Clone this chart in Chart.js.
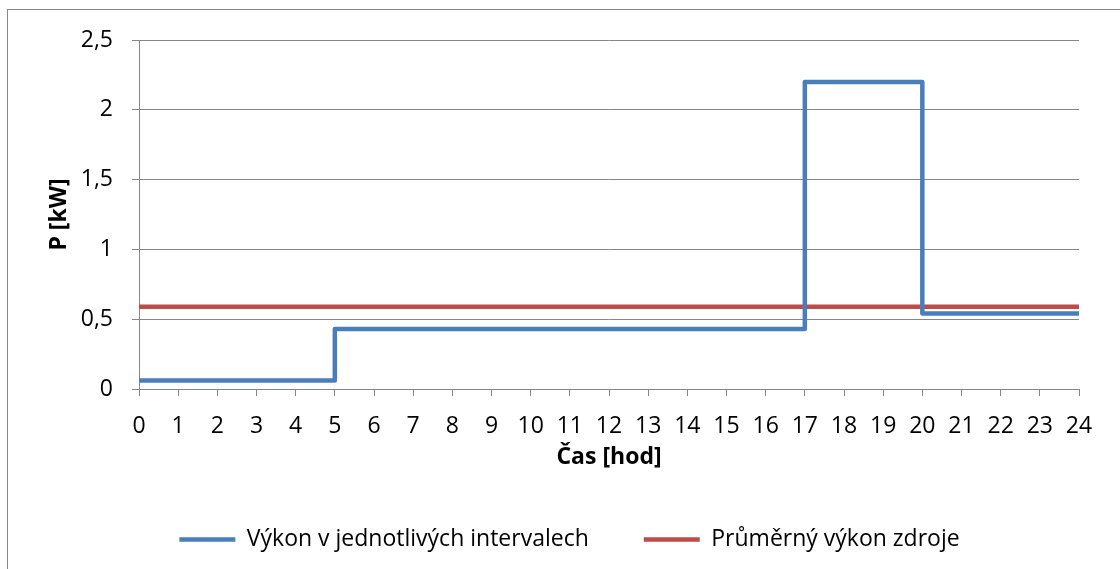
<!DOCTYPE html>
<html>
<head>
<meta charset="utf-8">
<script src="https://cdn.jsdelivr.net/npm/chart.js@4/dist/chart.umd.min.js"></script>
<style>
  html, body { margin: 0; padding: 0; background: #fff; }
  #wrap { width: 1120px; height: 569px; position: relative; }
</style>
</head>
<body>
<div id="wrap"><canvas id="chart" width="1120" height="569"></canvas></div>
<script>
const stepHours = [0, 5, 17, 20, 24];
const stepPower = [0.06, 0.43, 2.2, 0.54, 0.54];
const avgHours = [0, 24];
const avgPower = [0.59, 0.59];
const seriesNames = ["Výkon v jednotlivých intervalech", "Průměrný výkon zdroje"];

const COLOR_BLUE = "#4a7ebb";
const COLOR_RED = "#be4b48";
const COLOR_GRID = "#868686";
const FONT_FAMILY = "'Open Sans', sans-serif";

Chart.defaults.color = "#000";
Chart.defaults.font = { size: 23, family: FONT_FAMILY };

const toPoints = (xs, ys) => xs.map((x, i) => ({ x, y: ys[i] }));

// frame round the whole chart, only top and left edges fall inside the picture
const outerBorder = {
  id: "outerBorder",
  afterLayout(chart) {
    // legend sits a bit right of the full-width centre
    chart.legend.left += 12;
    chart.legend.right += 12;
  },
  afterDraw(chart) {
    const { ctx } = chart;
    ctx.save();
    ctx.strokeStyle = COLOR_GRID;
    ctx.lineWidth = 1;
    ctx.strokeRect(7.5, 9.5, 1200, 600);
    ctx.restore();
  },
};

new Chart(document.getElementById("chart"), {
  type: "line",
  data: {
    datasets: [
      {
        label: seriesNames[0],
        data: toPoints(stepHours, stepPower),
        stepped: "before",
        borderColor: COLOR_BLUE,
        backgroundColor: COLOR_BLUE,
        borderWidth: 4.5,
        borderJoinStyle: "round",
        borderCapStyle: "round",
        pointRadius: 0,
      },
      {
        label: seriesNames[1],
        data: toPoints(avgHours, avgPower),
        borderColor: COLOR_RED,
        backgroundColor: COLOR_RED,
        borderWidth: 4.5,
        borderCapStyle: "round",
        pointRadius: 0,
      },
    ],
  },
  options: {
    responsive: false,
    animation: false,
    layout: { padding: { top: 40, right: 41, left: 36, bottom: 8 } },
    scales: {
      x: {
        type: "linear",
        min: 0,
        max: 24,
        border: { color: COLOR_GRID },
        grid: { drawOnChartArea: false, color: COLOR_GRID, tickLength: 7 },
        ticks: { stepSize: 1, padding: 17, maxRotation: 0, autoSkip: false },
        title: {
          display: true,
          text: "Čas [hod]",
          font: { weight: "bold", size: 23 },
          padding: { top: 0, bottom: 2 },
        },
        afterFit(scale) {
          scale.height = 84;
        },
      },
      y: {
        min: 0,
        max: 2.5,
        border: { color: COLOR_GRID },
        grid: { color: COLOR_GRID, tickLength: 7 },
        ticks: {
          stepSize: 0.5,
          padding: 19,
          callback: (v) => String(v).replace(".", ","),
        },
        title: {
          display: true,
          text: "P [kW]",
          font: { weight: "bold", size: 23 },
          padding: { top: 10, bottom: 0 },
        },
        afterFit(scale) {
          scale.width = 103;
        },
      },
    },
    plugins: {
      legend: {
        position: "bottom",
        labels: {
          usePointStyle: true,
          pointStyle: "line",
          pointStyleWidth: 56,
          padding: 55,
        },
      },
      tooltip: { enabled: false },
    },
  },
  plugins: [outerBorder],
});
</script>
</body>
</html>
